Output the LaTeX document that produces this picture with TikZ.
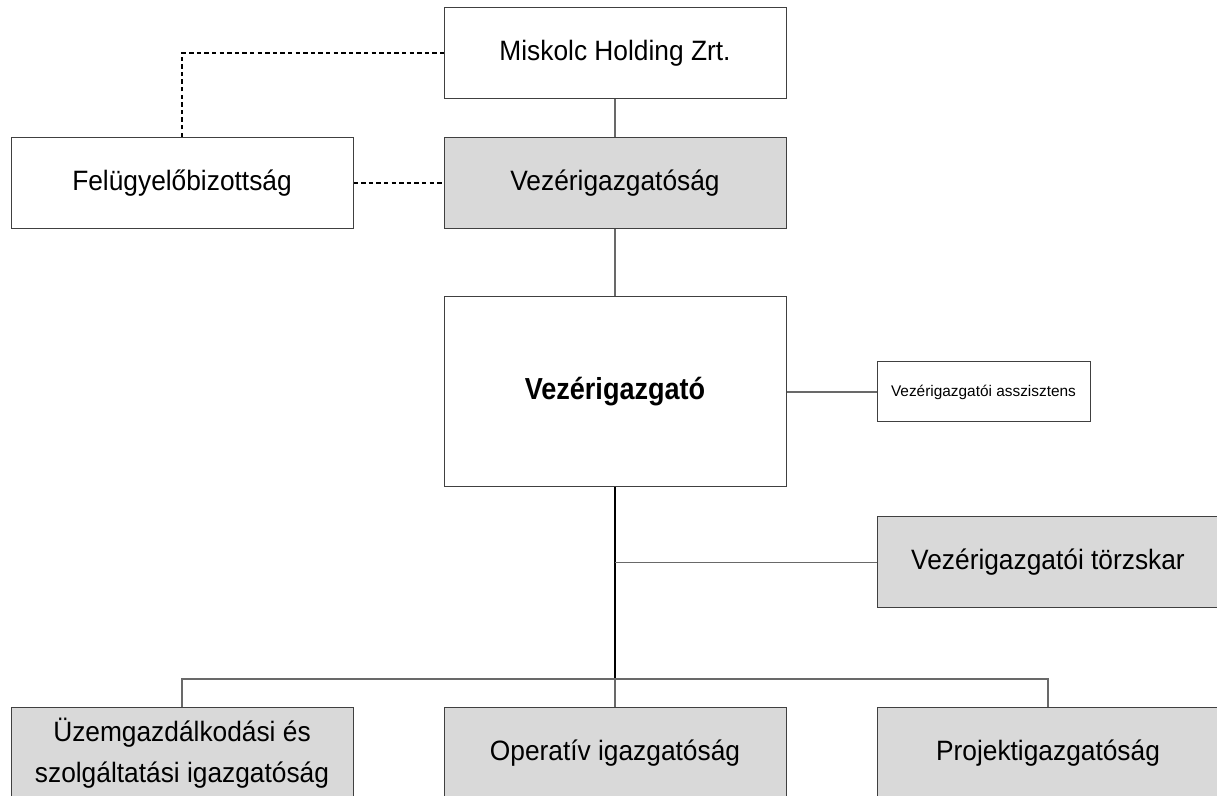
\documentclass[tikz,border=0pt]{standalone}
\usepackage{fontspec}
\setmainfont[FakeStretch=0.94]{Liberation Sans}
\newfontfamily\chieffont[FakeStretch=0.89]{Liberation Sans}
\newfontfamily\smallfont{Liberation Sans}
\usetikzlibrary{calc}
\definecolor{unitgray}{RGB}{217,217,217}
\definecolor{linegray}{RGB}{105,105,105}
\tikzset{
	unit/.style={draw=black!75, line width=0.5pt, minimum width=171pt, minimum height=45.5pt, inner sep=0pt, align=center, font=\fontsize{14}{16.5}\selectfont},
	shaded/.style={unit, fill=unitgray},
	link/.style={draw=linegray, line width=0.6pt},
	mainlink/.style={draw=black, line width=1.1pt},
	duty/.style={draw=black, line width=0.7pt, dash pattern=on 2.2pt off 1.6pt},
}

\begin{document}
\begin{tikzpicture}[x=0.5pt, y=-0.5pt]
		%%%%% START %%%%%
		
		\useasboundingbox (0, 0) rectangle (1217, 796);
		
		\node[unit] (holding) at (615, 53) {Miskolc Holding Zrt.};
		\node[unit] (board) at (182, 183) {Felügyelőbizottság};
		\node[shaded] (office) at (615, 183) {Vezérigazgatóság};
		
		\node[unit, minimum height=95pt, font=\chieffont\bfseries\fontsize{15.2}{18}\selectfont] (ceo) at (615, 392) {Vezérigazgató};
		\node[unit, minimum width=106.5pt, minimum height=30pt, font=\smallfont\fontsize{7.7}{9}\selectfont] (assistant) at (983.5, 392) {Vezérigazgatói asszisztens};
		\node[shaded] (staff) at (1048, 562.5) {Vezérigazgatói törzskar};
		
		\node[shaded, font=\fontsize{14}{20.5}\selectfont] (ops) at (182, 753) {Üzemgazdálkodási és\\szolgáltatási igazgatóság};
		\node[shaded] (operative) at (615, 753) {Operatív igazgatóság};
		\node[shaded] (project) at (1048, 753) {Projektigazgatóság};
		
		\coordinate (bus) at (615, 679);
		\coordinate (busleft) at (ops.north |- bus);
		
		\draw[link] (holding) -- (office);
		\draw[link] (office) -- (ceo);
		\draw[link] (ceo) -- (assistant);
		
		\draw[mainlink] (ceo.south) -- (bus);
		\draw[link] (ceo.south |- staff.west) -- (staff.west);
		
		\draw[link] (ops.north) -- (busleft) -| (project.north);
		\draw[link] (bus) -- (operative.north);
		
		\draw[duty] (board.north) |- (holding.west);
		\draw[duty] (board) -- (office);
		
		%%%%% END %%%%%
\end{tikzpicture}
\end{document}
